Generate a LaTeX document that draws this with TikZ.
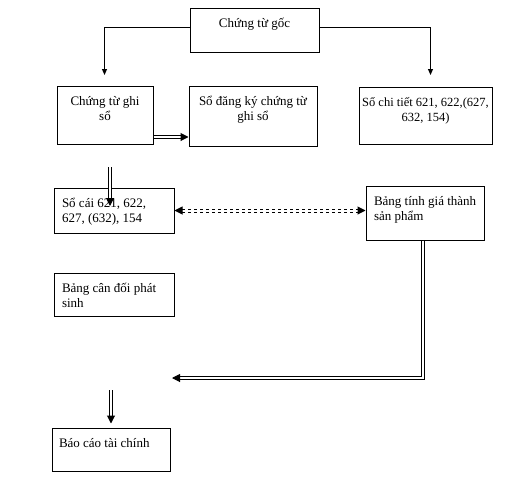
\documentclass[tikz,border=0pt]{standalone}
\usepackage{fontspec}
\setmainfont{Liberation Serif}
\usetikzlibrary{arrows.meta, positioning}

% box text: width, height, alignment + text
\newcommand{\boxtxt}[3]{\parbox[t][#2][t]{#1}{\rule{0pt}{19pt}#3}}

\tikzset{
  blk/.style={draw, line width=1pt, anchor=north west, inner sep=0pt},
  dbl/.style={double, double distance=2pt, line width=1pt},
  tip/.style={-{Triangle[length=6pt, width=5pt]}},
  bigtip/.style={-{Triangle[length=8pt, width=8pt]}}
}

\begin{document}
\begin{tikzpicture}[x=1pt, y=-1pt, font=\fontsize{13}{15}\selectfont]
  \useasboundingbox (0,0) rectangle (526,479);

  % top box
  \node[blk] (goc) at (189.5,7.5) {\boxtxt{129pt}{44pt}{\centering Chứng từ gốc}};

  % second row
  \node[blk] (ctgs) at (56.5,85.5) {\boxtxt{96pt}{58pt}{\centering Chứng từ ghi\\ sổ}};
  \node[blk] (sodk) at (188.5,85.5) {\boxtxt{128pt}{60pt}{\centering Sổ đăng ký chứng từ\\ ghi sổ}};
  \node[blk] (soct) at (358.5,86.5) {\boxtxt{133pt}{57pt}{\centering\fontsize{12.5}{15}\selectfont Sổ chi tiết 621, 622,(627,\\ 632, 154)}};

  % ledgers
  \node[blk] (socai) at (53.5,187.5) {\boxtxt{120pt}{45pt}{\raggedright\leftskip=8pt Sổ cái 621, 622,\\ 627, (632), 154}};
  \node[blk] (bangtinh) at (365.5,185.5) {\boxtxt{118pt}{54pt}{\raggedright\leftskip=8pt Bảng tính giá thành\\ sản phẩm}};
  \node[blk] (cdps) at (53.5,272.5) {\boxtxt{120pt}{43pt}{\raggedright\leftskip=8pt Bảng cân đối phát\\ sinh}};
  \node[blk] (bctc) at (51.5,427.5) {\boxtxt{118pt}{43pt}{\raggedright\leftskip=7pt Báo cáo tài chính}};

  % free ends
  \coordinate (lt) at (104.5,75);
  \coordinate (rt) at (430.5,75);
  \coordinate (a1) at (110,167);
  \coordinate (a2) at (110,206);
  \coordinate (c1) at (172,378);
  \coordinate (b1) at (111,390);

  % from source documents
  \draw[tip, line width=1pt] ([yshift=3pt]goc.west) -| (lt);
  \draw[tip, line width=1pt] ([yshift=3pt]goc.east) -| (rt);

  % register
  \draw[dbl, bigtip] ([yshift=7.5pt]ctgs.south east) -- ([yshift=7.5pt]ctgs.south east -| sodk.west);

  % posting to ledger
  \draw[dbl, bigtip] (a1) -- (a2);

  % ledger <-> costing
  \draw[dbl, dashed, {Triangle[length=8pt, width=8pt]}-{Triangle[length=8pt, width=8pt]}]
    (socai.east) -- (socai.east -| bangtinh.west);

  % costing back down
  \draw[dbl, bigtip] ([xshift=-2.5pt]bangtinh.south) |- (c1);

  % to reports
  \draw[dbl, bigtip, shorten >=4pt] (b1) -- (b1 |- bctc.north);

\end{tikzpicture}
\end{document}
